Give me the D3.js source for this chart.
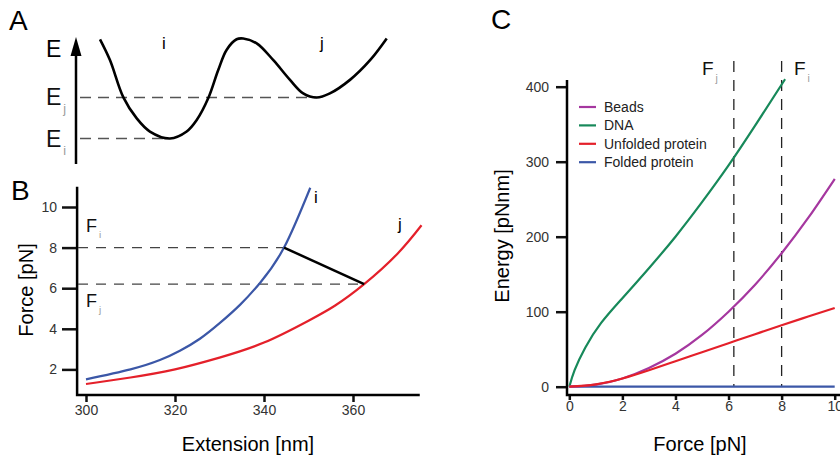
<!DOCTYPE html>
<html lang="en">
<head>
  <meta charset="UTF-8" />
  <title>Energy landscape and force curves</title>
  <style>
    body { margin: 0; background: #fff; }
    svg { display: block; font-family: "Liberation Sans", Arial, sans-serif; }
  </style>
</head>
<body>
  <svg width="840" height="462"></svg>

  <script src="https://d3js.org/d3.v7.min.js"></script>

  <script>
    // --- Panel A: energy landscape (reaction coordinate 0-100, energy with Ei = 1, Ej = 2)
    const landscapeX = [0, 3.5, 8.1, 12.8, 17.4, 24.4, 30.2, 33.7, 37.7, 41.2, 44.1, 47.6, 49.9,
                        54.6, 60.4, 66.2, 70.8, 75.5, 80.1, 87.1, 94.1, 99.9];
    const landscapeE = [3.42, 2.91, 2.01, 1.49, 1.17, 1.0, 1.17, 1.45, 1.98, 2.67, 3.16, 3.42, 3.44,
                        3.32, 2.91, 2.43, 2.10, 2.0, 2.10, 2.43, 2.91, 3.44];
    const energyI = 1, energyJ = 2;
    const minimaX = [24.4, 75.5];

    // --- Panel B: force-extension curves of states i and j
    const extI = [300, 310, 316.6, 321.1, 325.6, 330.1, 334.6, 339.1, 344.5, 350.4];
    const forceI = [1.51, 2.0, 2.46, 2.92, 3.51, 4.29, 5.18, 6.26, 8.0, 10.95];
    const extJ = [300, 310, 320, 330, 340, 350, 356, 362.5, 370, 375.4];
    const forceJ = [1.28, 1.6, 2.0, 2.58, 3.32, 4.4, 5.15, 6.2, 7.7, 9.1];
    const Fi = 8, Fj = 6.2;
    const jumpExt = [344.5, 362.5];
    const bXTicks = [300, 320, 340, 360];
    const bYTicks = [2, 4, 6, 8, 10];

    // --- Panel C: stored energy vs force
    const forceC = [0, 1, 2, 3, 4, 5, 6, 7, 8, 9, 10];
    const beads = [0, 2.8, 11, 25, 44, 69, 100, 136, 178, 225, 277];
    const unfolded = [0, 3.2, 11, 22, 34, 46, 58, 70, 82, 93.5, 105];
    const folded = [0, 0, 0, 0, 0, 0, 0, 0, 0, 0, 0];
    const dnaForce = [0, 0.2, 0.6, 1.2, 2, 3, 4, 5, 6, 7, 8.13];
    const dnaEnergy = [0, 22, 52, 85, 118, 158, 200, 246, 295, 348, 410];
    const seriesNames = ['Beads', 'DNA', 'Unfolded protein', 'Folded protein'];
    const seriesColors = ['#a5379f', '#17895a', '#e4202a', '#3b57a7'];
    const cXTicks = [0, 2, 4, 6, 8, 10];
    const cYTicks = [0, 100, 200, 300, 400];

    const svg = d3.select('svg');
    const subColor = '#9a9a9a';
    const tickColor = '#333';

    // text with a small grey subscript
    function subText(g, x, y, main, sub, size) {
      const t = g.append('text').attr('x', x).attr('y', y)
        .attr('font-size', size).attr('fill', '#111');
      t.append('tspan').text(main);
      t.append('tspan').text(sub).attr('font-size', size * 0.55)
        .attr('fill', subColor).attr('dx', 2).attr('dy', size * 0.35);
      return t;
    }

    function styleAxis(g) {
      g.select('.domain').remove();
      g.selectAll('.tick line').attr('stroke', '#111').attr('stroke-width', 2.5);
      g.selectAll('.tick text').attr('fill', tickColor).attr('font-size', 14)
        .attr('font-family', '"Liberation Sans", Arial, sans-serif');
    }

    // ================= Panel A =================
    const xA = d3.scaleLinear().domain([0, 100]).range([100, 387]);
    const yA = d3.scaleLinear().domain([1, 2]).range([138.5, 97.5]);
    const gA = svg.append('g');

    gA.append('text').attr('x', 9).attr('y', 30).attr('font-size', 28).text('A');

    // energy axis with arrow
    gA.append('line').attr('x1', 76).attr('x2', 76).attr('y1', 52).attr('y2', 164)
      .attr('stroke', '#000').attr('stroke-width', 2.5);
    gA.append('path').attr('d', 'M76,37 L70.5,56 L81.5,56 Z').attr('fill', '#000');
    gA.append('text').attr('x', 46).attr('y', 57).attr('font-size', 23).text('E');
    subText(gA, 46, yA(energyJ) + 7, 'E', 'j', 23);
    subText(gA, 46, yA(energyI) + 8, 'E', 'i', 23);

    [[energyJ, minimaX[1]], [energyI, minimaX[0]]].forEach(([e, mx]) => {
      gA.append('line').attr('x1', 80).attr('x2', xA(mx)).attr('y1', yA(e)).attr('y2', yA(e))
        .attr('stroke', '#555').attr('stroke-width', 1.3).attr('stroke-dasharray', '11,7');
    });

    const landscape = d3.line()
      .x(d => xA(d[0])).y(d => yA(d[1]))
      .curve(d3.curveCatmullRom.alpha(0.5));
    gA.append('path').datum(d3.zip(landscapeX, landscapeE))
      .attr('d', landscape).attr('fill', 'none').attr('stroke', '#000').attr('stroke-width', 2.6);

    gA.append('text').attr('x', 162).attr('y', 49).attr('font-size', 17).text('i');
    gA.append('text').attr('x', 320).attr('y', 49).attr('font-size', 17).text('j');

    // ================= Panel B =================
    const xB = d3.scaleLinear().domain([300, 320]).range([86, 175]);
    const yB = d3.scaleLinear().domain([0, 10]).range([410, 207]);
    const gB = svg.append('g');

    gB.append('text').attr('x', 11).attr('y', 200).attr('font-size', 28).text('B');

    gB.append('g').attr('transform', 'translate(77,0)')
      .call(d3.axisLeft(yB).tickValues(bYTicks).tickSize(15).tickPadding(5))
      .call(styleAxis);
    gB.append('g').attr('transform', 'translate(0,395)')
      .call(d3.axisBottom(xB).tickValues(bXTicks).tickSize(7).tickPadding(3))
      .call(styleAxis);

    gB.append('path')
      .attr('d', `M${xB(298)},${yB(11)} V395 H${xB(375)}`)
      .attr('fill', 'none').attr('stroke', '#000').attr('stroke-width', 2.5);

    // dashed force levels
    [[Fi, jumpExt[0]], [Fj, jumpExt[1]]].forEach(([f, e]) => {
      gB.append('line').attr('x1', 78).attr('x2', xB(e)).attr('y1', yB(f)).attr('y2', yB(f))
        .attr('stroke', '#444').attr('stroke-width', 1.3).attr('stroke-dasharray', '10,8');
    });

    const lineB = d3.line().x(d => xB(d[0])).y(d => yB(d[1])).curve(d3.curveNatural);
    gB.append('path').datum(d3.zip(extI, forceI)).attr('d', lineB)
      .attr('fill', 'none').attr('stroke', '#3b57a7').attr('stroke-width', 2.2);
    gB.append('path').datum(d3.zip(extJ, forceJ)).attr('d', lineB)
      .attr('fill', 'none').attr('stroke', '#e4202a').attr('stroke-width', 2.2);

    gB.append('line')
      .attr('x1', xB(jumpExt[0])).attr('y1', yB(Fi))
      .attr('x2', xB(jumpExt[1])).attr('y2', yB(Fj))
      .attr('stroke', '#000').attr('stroke-width', 2.5);

    subText(gB, 86, 232, 'F', 'i', 18);
    subText(gB, 86, 307, 'F', 'j', 18);
    gB.append('text').attr('x', 314).attr('y', 203).attr('font-size', 17).text('i');
    gB.append('text').attr('x', 398).attr('y', 230).attr('font-size', 17).text('j');

    gB.append('text').attr('x', 248).attr('y', 451).attr('text-anchor', 'middle')
      .attr('font-size', 20).text('Extension [nm]');
    gB.append('text').attr('transform', 'translate(33,290) rotate(-90)')
      .attr('text-anchor', 'middle').attr('font-size', 20).text('Force [pN]');

    // ================= Panel C =================
    const xC = d3.scaleLinear().domain([0, 10]).range([569.3, 834.7]);
    const yC = d3.scaleLinear().domain([0, 400]).range([386.7, 86.7]);
    const gC = svg.append('g');

    gC.append('text').attr('x', 491).attr('y', 29).attr('font-size', 28).text('C');

    gC.append('g').attr('transform', 'translate(567,0)')
      .call(d3.axisLeft(yC).tickValues(cYTicks).tickSize(11).tickPadding(7))
      .call(styleAxis);
    gC.append('g').attr('transform', 'translate(0,395)')
      .call(d3.axisBottom(xC).tickValues(cXTicks).tickSize(5).tickPadding(1))
      .call(styleAxis);

    gC.append('path')
      .attr('d', `M567,${yC(409)} V395 H840`)
      .attr('fill', 'none').attr('stroke', '#000').attr('stroke-width', 2.5);

    // dashed transition forces
    [Fj, Fi].forEach(f => {
      gC.append('line').attr('x1', xC(f)).attr('x2', xC(f)).attr('y1', 61).attr('y2', yC(0))
        .attr('stroke', '#222').attr('stroke-width', 1.3).attr('stroke-dasharray', '11,8');
    });
    subText(gC, 702, 75, 'F', 'j', 19);
    subText(gC, 794, 75, 'F', 'i', 19);

    const lineC = d3.line().x(d => xC(d[0])).y(d => yC(d[1])).curve(d3.curveNatural);
    const drawOrder = [
      [d3.zip(forceC, folded), seriesColors[3]],
      [d3.zip(dnaForce, dnaEnergy), seriesColors[1]],
      [d3.zip(forceC, beads), seriesColors[0]],
      [d3.zip(forceC, unfolded), seriesColors[2]]
    ];
    drawOrder.forEach(([pts, color]) => {
      gC.append('path').datum(pts).attr('d', lineC)
        .attr('fill', 'none').attr('stroke', color).attr('stroke-width', 2.2);
    });

    // legend
    const legend = gC.selectAll('.legend').data(seriesNames).enter().append('g')
      .attr('transform', (d, i) => `translate(579,${107 + i * 18.4})`);
    legend.append('line').attr('x1', 0).attr('x2', 17)
      .attr('stroke', (d, i) => seriesColors[i]).attr('stroke-width', 2.2);
    legend.append('text').attr('x', 25).attr('dy', '0.35em')
      .attr('font-size', 14).attr('fill', '#222').text(d => d);

    gC.append('text').attr('x', 700).attr('y', 451).attr('text-anchor', 'middle')
      .attr('font-size', 20).text('Force [pN]');
    gC.append('text').attr('transform', 'translate(509,236) rotate(-90)')
      .attr('text-anchor', 'middle').attr('font-size', 20).text('Energy [pNnm]');
  </script>
</body>
</html>
